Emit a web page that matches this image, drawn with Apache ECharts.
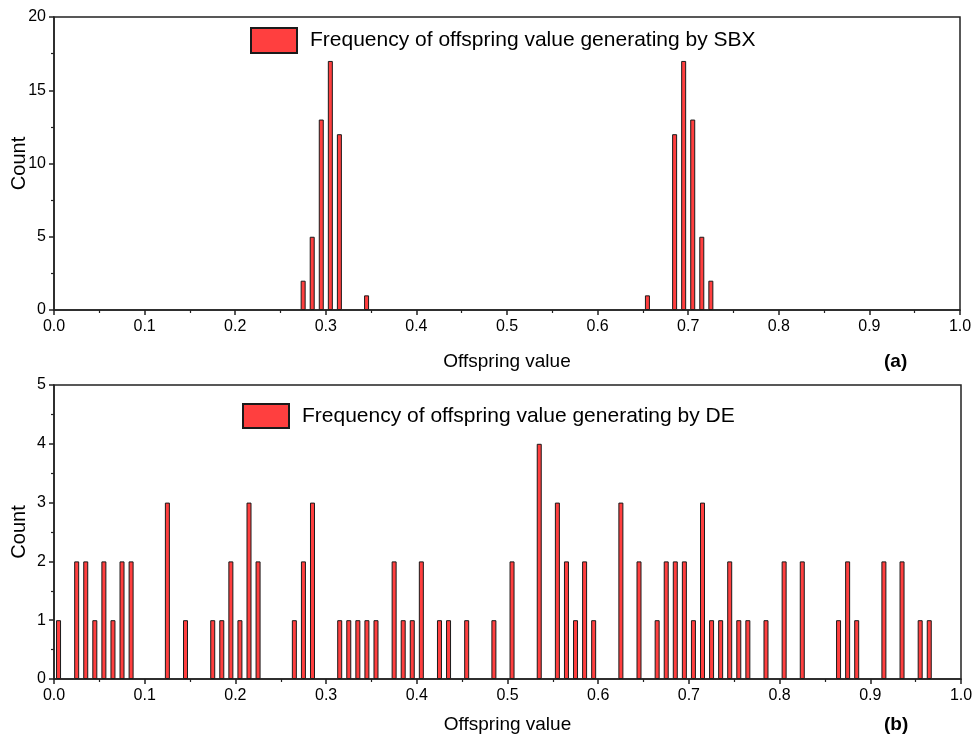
<!DOCTYPE html>
<html>
<head>
<meta charset="utf-8">
<script src="https://cdn.jsdelivr.net/npm/echarts@6/dist/echarts.min.js"></script>
<style>
	html, body { margin: 0; padding: 0; background: #fff; }
	#chart { width: 975px; height: 740px; }
</style>
</head>
<body>
<div id="chart"></div>
<script>
// (a) SBX - bin centres and counts
var sbxX = [0.275, 0.285, 0.295, 0.305, 0.315, 0.345, 0.655, 0.685, 0.695, 0.705, 0.715, 0.725];
var sbxCount = [2, 5, 13, 17, 12, 1, 1, 12, 17, 13, 5, 2];

// (b) DE - bin centres and counts
var deX = [0.005, 0.025, 0.035, 0.045, 0.055, 0.065, 0.075, 0.085, 0.125, 0.145,
	0.175, 0.185, 0.195, 0.205, 0.215, 0.225, 0.265, 0.275, 0.285,
	0.315, 0.325, 0.335, 0.345, 0.355, 0.375, 0.385, 0.395, 0.405, 0.425, 0.435,
	0.455, 0.485, 0.505, 0.535, 0.555, 0.565, 0.575, 0.585, 0.595, 0.625, 0.645,
	0.665, 0.675, 0.685, 0.695, 0.705, 0.715, 0.725, 0.735, 0.745, 0.755, 0.765,
	0.785, 0.805, 0.825, 0.865, 0.875, 0.885, 0.915, 0.935, 0.955, 0.965];
var deCount = [1, 2, 2, 1, 2, 1, 2, 2, 3, 1,
	1, 1, 2, 1, 3, 2, 1, 2, 3,
	1, 1, 1, 1, 1, 2, 1, 1, 2, 1, 1,
	1, 1, 2, 4, 3, 2, 1, 2, 1, 3, 2,
	1, 2, 2, 2, 1, 3, 1, 1, 2, 1, 1,
	1, 2, 2, 1, 2, 1, 2, 2, 1, 1];

var xTicks = ['0.0', '0.1', '0.2', '0.3', '0.4', '0.5', '0.6', '0.7', '0.8', '0.9', '1.0'];

var FONT = '"Liberation Sans", Arial, sans-serif';
var LINE = '#222';

function pairs(xs, ys) {
	var out = [];
	for(var i = 0; i < xs.length; i++) {
		out.push([xs[i], ys[i]]);
	}
	return out;
}

function xAxisOf(idx, gap) {
	return {
		type: 'value',
		gridIndex: idx,
		min: 0,
		max: 1,
		interval: 0.1,
		name: 'Offspring value',
		nameLocation: 'middle',
		nameGap: gap,
		nameMoveOverlap: false,
		nameTextStyle: { fontFamily: FONT, fontSize: 19, color: '#000' },
		axisLine: { onZero: false, lineStyle: { color: LINE, width: 1.5 } },
		axisTick: { length: 5, lineStyle: { color: LINE, width: 1.5 } },
		minorTick: { show: true, splitNumber: 2, length: 3, lineStyle: { color: LINE, width: 1.2 } },
		axisLabel: {
			fontFamily: FONT, fontSize: 16, color: '#000', margin: 9,
			formatter: function(v) { return xTicks[Math.round(v * 10)]; }
		},
		splitLine: { show: false }
	};
}

function yAxisOf(idx, max, step) {
	return {
		type: 'value',
		gridIndex: idx,
		min: 0,
		max: max,
		interval: step,
		name: 'Count',
		nameLocation: 'middle',
		nameGap: 25,
		nameRotate: 90,
		nameMoveOverlap: false,
		nameTextStyle: { fontFamily: FONT, fontSize: 20, color: '#000' },
		axisLine: { show: true, lineStyle: { color: LINE, width: 1.5 } },
		axisTick: { show: true, length: 5, lineStyle: { color: LINE, width: 1.5 } },
		minorTick: { show: true, splitNumber: 2, length: 3, lineStyle: { color: LINE, width: 1.2 } },
		axisLabel: { fontFamily: FONT, fontSize: 16, color: '#000', margin: 8 },
		splitLine: { show: false }
	};
}

function barSeries(name, idx, data) {
	return {
		name: name,
		type: 'bar',
		xAxisIndex: idx,
		yAxisIndex: idx,
		barWidth: 5,
		itemStyle: { color: '#ff3f3f', borderColor: '#1a1a1a', borderWidth: 1 },
		emphasis: { disabled: true },
		data: data
	};
}

var nameA = 'Frequency of offspring value generating by SBX';
var nameB = 'Frequency of offspring value generating by DE';

var myChart = echarts.init(document.getElementById('chart'));
var option = {
	animation: false,
	backgroundColor: '#fff',
	grid: [
		{ left: 54, right: 15, top: 17, height: 293, show: true, borderColor: LINE, borderWidth: 1.5, containLabel: false, outerBoundsMode: 'none' },
		{ left: 54, right: 14, top: 385, height: 294, show: true, borderColor: LINE, borderWidth: 1.5, containLabel: false, outerBoundsMode: 'none' }
	],
	legend: [
		{
			data: [nameA], left: 250, top: 27, padding: 0,
			itemWidth: 46, itemHeight: 25, icon: 'rect',
			textStyle: { fontFamily: FONT, fontSize: 21, color: '#000', padding: [0, 0, 0, 8] }
		},
		{
			data: [nameB], left: 242, top: 403, padding: 0,
			itemWidth: 46, itemHeight: 24, icon: 'rect',
			textStyle: { fontFamily: FONT, fontSize: 21, color: '#000', padding: [0, 0, 0, 8] }
		}
	],
	xAxis: [xAxisOf(0, 42), xAxisOf(1, 36)],
	yAxis: [yAxisOf(0, 20, 5), yAxisOf(1, 5, 1)],
	series: [
		barSeries(nameA, 0, pairs(sbxX, sbxCount)),
		barSeries(nameB, 1, pairs(deX, deCount))
	],
	graphic: [
		{ type: 'text', left: 884, top: 352, style: { text: '(a)', fontFamily: FONT, fontSize: 19, fontWeight: 'bold', fill: '#000' } },
		{ type: 'text', left: 884, top: 715, style: { text: '(b)', fontFamily: FONT, fontSize: 19, fontWeight: 'bold', fill: '#000' } }
	]
};
myChart.setOption(option);
</script>
</body>
</html>
